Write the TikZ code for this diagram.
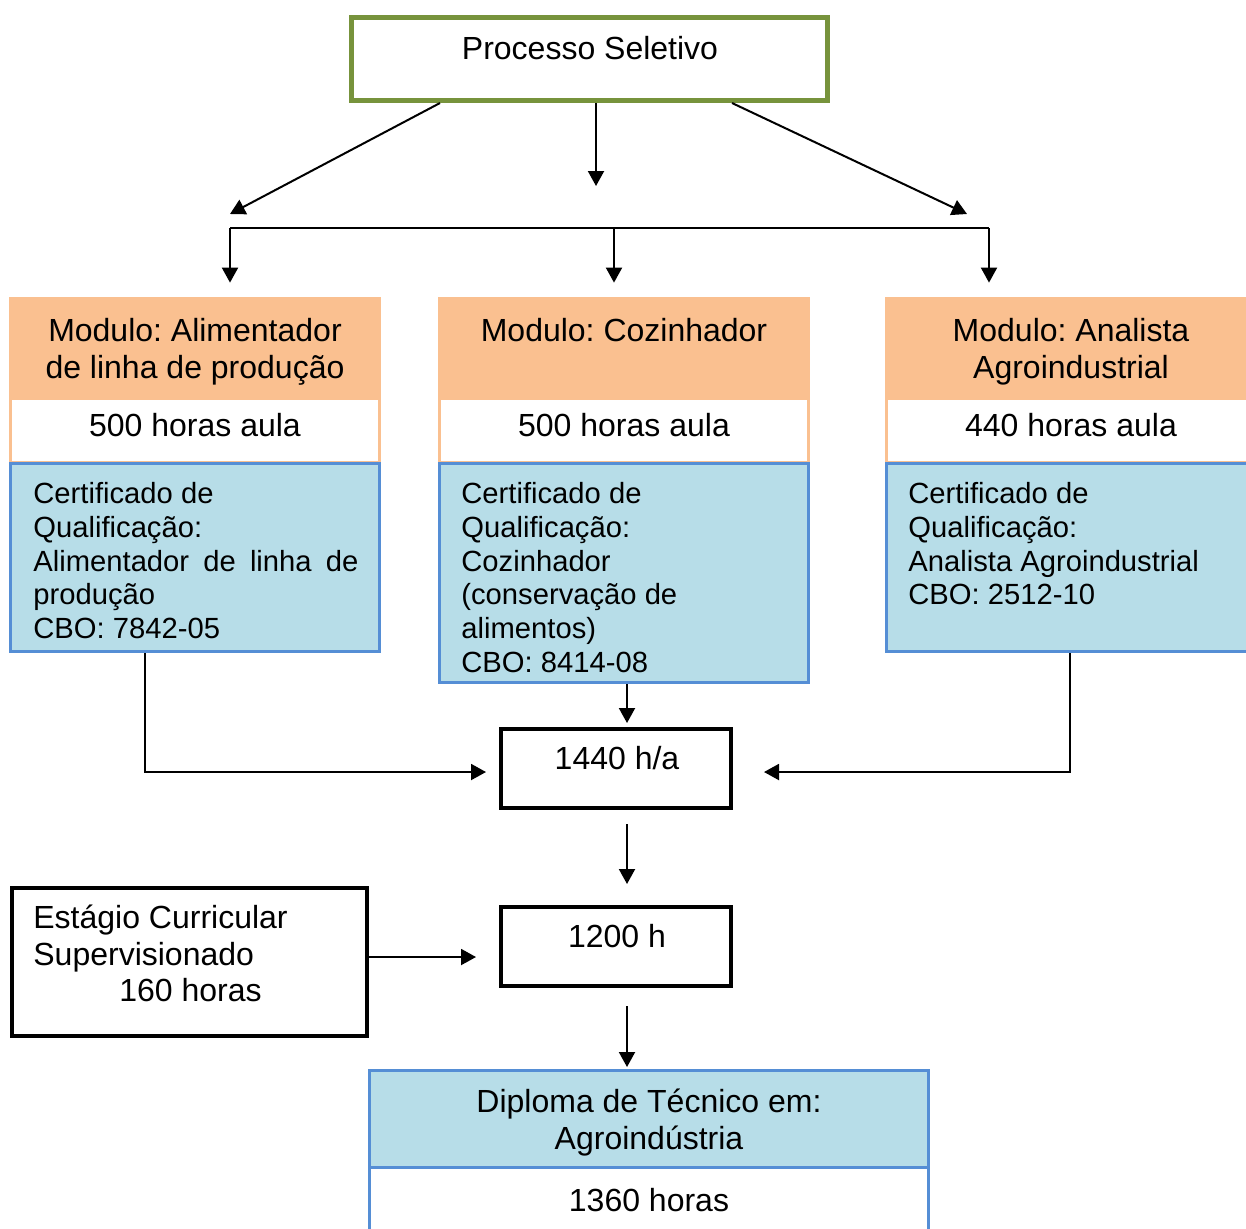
\documentclass[tikz,border=0pt]{standalone}
\usepackage{fontspec}
\setmainfont{Liberation Sans}
\usetikzlibrary{arrows.meta}
\definecolor{verde}{RGB}{119,147,60}
\definecolor{laranja}{RGB}{250,192,144}
\definecolor{azul}{RGB}{183,221,232}
\definecolor{azulborda}{RGB}{85,142,213}
\frenchspacing
\begin{document}
\begin{tikzpicture}[x=0.5pt,y=-0.5pt,line join=miter,
	txt/.style={inner sep=0pt,font=\fontsize{16}{16.9}\selectfont},
	ctxt/.style={inner sep=0pt,anchor=north west,align=left,font=\fontsize{14.6}{16.9}\selectfont},
	cab/.style={fill=laranja,minimum width=186pt,minimum height=50pt,inner sep=0pt},
	cabt/.style={inner sep=0pt,align=center,font=\fontsize{16}{18.5}\selectfont},
	horas/.style={fill=white,draw=laranja,line width=1.5pt,minimum width=184.5pt,minimum height=32pt,inner sep=0pt,text depth=5pt,font=\fontsize{16}{16.9}\selectfont},
	cert/.style={fill=azul,draw=azulborda,line width=1.5pt,inner sep=0pt},
	caixa/.style={draw,line width=2pt,inner sep=0pt},
	seta/.style={line width=1pt,-{Triangle[length=7.5pt,width=8pt]}}]
\path[use as bounding box] (0,0) rectangle (1246,1228);
\clip (0,0) rectangle (1246,1228);
% topo
\node[draw=verde,line width=2.5pt,minimum width=238pt,minimum height=41.5pt,inner sep=0pt] (ps) at (589.5,59) {};
\node[txt] (pst) at (590,48) {Processo Seletivo};
\path (230,228)coordinate(b1) (614,228)coordinate(b2) (989,228)coordinate(b3) (596,186)coordinate(pm) (967,214)coordinate(pr);
\draw[seta] ([xshift=-74.75pt]ps.south) -- ([yshift=7pt]b1);
\draw[seta] ([xshift=3.25pt]ps.south) -- (pm);
\draw[seta] ([xshift=71.25pt]ps.south) -- (pr);
\draw[line width=1pt] (b1) -- (b3);
% modulos
\node[cab] (m1) at (195,347) {};
\node[cab] (m2) at (624,347) {};
\node[cab] (m3) at (1071,347) {};
\node[cabt] (m1t) at (195,352) {Modulo: Alimentador\\de linha de produção};
\node[cabt] (m2t) at (624,330) {Modulo: Cozinhador};
\node[cabt] (m3t) at (1071,352) {Modulo: Analista\\Agroindustrial};
\node[horas] (h1) at (195,430) {500 horas aula};
\node[horas] (h2) at (624,430) {500 horas aula};
\node[horas] (h3) at (1071,430) {440 horas aula};
\node[cert,minimum width=184.5pt,minimum height=94pt] (c1) at (195,557.5) {};
\node[cert,minimum width=184.5pt,minimum height=109.5pt] (c2) at (624,573) {};
\node[cert,minimum width=184.5pt,minimum height=94pt] (c3) at (1071,557.5) {};
\node[ctxt] (c1t) at (33,482) {Certificado de\\Qualificação:\\\makebox[162.5pt][s]{Alimentador de linha de}\\produção\\CBO: 7842-05};
\node[ctxt] (c2t) at (461,482) {Certificado de\\Qualificação:\\Cozinhador\\(conservação de\\alimentos)\\CBO: 8414-08};
\node[ctxt] (c3t) at (908,482) {Certificado de\\Qualificação:\\Analista Agroindustrial\\CBO: 2512-10};
\foreach \b/\m in {b1/m1,b2/m2,b3/m3}
	\draw[seta,shorten >=7pt] (\b) -- (\b |- \m.north);
% totais
\node[caixa,minimum width=115pt,minimum height=39.5pt] (h1440) at (616,768.5) {};
\node[txt] (h1440t) at (617,758) {1440 h/a};
\node[caixa,minimum width=115pt,minimum height=39.5pt] (h1200) at (616,946.5) {};
\node[txt] (h1200t) at (617,936) {1200 h};
\node[caixa,minimum width=177.5pt,minimum height=74pt] (est) at (189.5,962) {};
\node[txt,anchor=north west,align=left,font=\fontsize{16}{18.25}\selectfont] (estt) at (33,905) {Estágio Curricular\\Supervisionado\\\hspace*{43pt}160 horas};
\draw[seta,shorten >=6.5pt] ([xshift=-25pt]c1.south) |- ([yshift=-1.75pt]h1440.west);
\draw[seta,shorten >=15.5pt] ([xshift=-0.5pt]c3.south) |- ([yshift=-1.75pt]h1440.east);
\draw[seta,shorten >=2pt] ([xshift=1.5pt]c2.south) -- ([xshift=1.5pt]c2.south |- h1440.north);
\draw[seta,shorten <=7pt,shorten >=10.5pt] ([xshift=5.5pt]h1440.south) -- ([xshift=5.5pt]h1440.south |- h1200.north);
\draw[seta,shorten >=11.5pt] ([yshift=2.5pt]est.east) -- ([yshift=2.5pt]est.east -| h1200.west);
% diploma
\node[cert,fill=white,minimum width=279.5pt,minimum height=40pt] (dh) at (649,1207.5) {};
\node[cert,minimum width=279.5pt,minimum height=48.5pt,align=center,text depth=0pt,font=\fontsize{16}{18.5}\selectfont] (dip) at (649,1119) {Diploma de Técnico em:\\Agroindústria};
\node[txt] (dht) at (649,1200) {1360 horas};
\draw[seta,shorten <=9pt,shorten >=1pt] ([xshift=5.5pt]h1200.south) -- ([xshift=5.5pt]h1200.south |- dip.north);
\end{tikzpicture}
\end{document}
